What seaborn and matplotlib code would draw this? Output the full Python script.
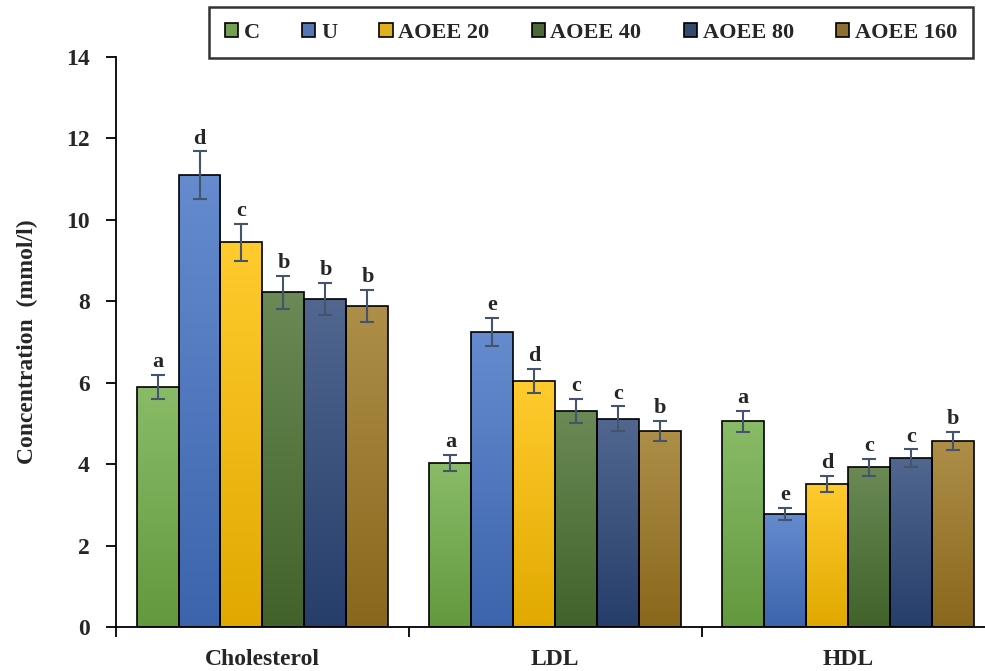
import numpy as np
import pandas as pd
import matplotlib
matplotlib.use("Agg")
import matplotlib.pyplot as plt
import seaborn as sns
from matplotlib.colors import LinearSegmentedColormap, to_rgb

sns.set_theme(style="ticks")
plt.rcParams['font.family'] = ['Liberation Serif', 'DejaVu Serif']
plt.rcParams['font.weight'] = 'bold'

# dados
parametros = ["Cholesterol", "LDL", "HDL"]
grupos = ["C", "U", "AOEE 20", "AOEE 40", "AOEE 80", "AOEE 160"]

media_col = [5.90, 11.10, 9.45, 8.22, 8.06, 7.88]
media_ldl = [4.02, 7.24, 6.04, 5.30, 5.12, 4.82]
media_hdl = [5.05, 2.78, 3.52, 3.92, 4.14, 4.57]

erro_col = [0.30, 0.58, 0.45, 0.40, 0.40, 0.40]
erro_ldl = [0.20, 0.35, 0.30, 0.30, 0.30, 0.25]
erro_hdl = [0.25, 0.15, 0.20, 0.20, 0.22, 0.23]

letras_col = ["a", "d", "c", "b", "b", "b"]
letras_ldl = ["a", "e", "d", "c", "c", "b"]
letras_hdl = ["a", "e", "d", "c", "c", "b"]

cores = ["#70AD47", "#4472C4", "#FFC000", "#4A7030", "#2B4678", "#9C7620"]

medias = [media_col, media_ldl, media_hdl]
erros = [erro_col, erro_ldl, erro_hdl]
letras = [letras_col, letras_ldl, letras_hdl]

linhas = []
for p, vals in zip(parametros, medias):
    for g, v in zip(grupos, vals):
        linhas.append({"Parâmetro": p, "Grupo": g, "Concentração": v})
df = pd.DataFrame(linhas)

fig = plt.figure(figsize=(9.85, 6.71), dpi=100)
ax = fig.add_axes([0.1178, 0.0656, 0.892, 0.8495])

sns.barplot(data=df, x="Parâmetro", y="Concentração", hue="Grupo",
            order=parametros, hue_order=grupos, palette=cores,
            width=0.86, gap=0, edgecolor="black", linewidth=1.2,
            errorbar=None, ax=ax)

# legenda no topo
sns.move_legend(ax, "center", bbox_to_anchor=(0.6, 0.951),
                bbox_transform=fig.transFigure, ncol=6, title=None,
                frameon=True, fancybox=False, fontsize=16,
                handlelength=0.6, handleheight=0.6, handletextpad=0.25,
                columnspacing=1.9, borderpad=0.7, borderaxespad=0)
leg = ax.get_legend()
leg.get_frame().set_edgecolor("black")
leg.get_frame().set_linewidth(1.8)
for t in leg.get_texts():
    t.set_fontweight("bold")

# preenchimento em degradê + barras de erro + letras
barras = list(ax.containers)[:len(grupos)]
for i, cont in enumerate(barras):
    base = np.array(to_rgb(cores[i]))
    topo = base + (1 - base) * 0.18
    fundo = base * 0.88
    cmap = LinearSegmentedColormap.from_list("g", [fundo, topo])
    for j, bar in enumerate(cont):
        x0, w, h = bar.get_x(), bar.get_width(), bar.get_height()
        im = ax.imshow(np.linspace(0, 1, 256).reshape(-1, 1), cmap=cmap,
                       extent=(x0, x0 + w, 0, h), origin="lower",
                       aspect="auto", zorder=bar.get_zorder() - 0.1)
        im.set_clip_path(bar)
        bar.set_facecolor("none")
        xc = x0 + w / 2
        e = erros[j][i]
        ax.errorbar(xc, h, yerr=e, fmt="none", ecolor="#44546A",
                    elinewidth=1.5, capsize=5, capthick=1.5, zorder=5)
        ax.annotate(letras[j][i], (xc, h + e), xytext=(0, 2),
                    textcoords="offset points", ha="center", va="bottom",
                    fontsize=16, fontweight="bold")

ax.set_xlim(-0.5, 2.5)
ax.set_ylim(0, 14)
ax.set_yticks(range(0, 15, 2))
ax.set_xticks([0, 1, 2])
ax.set_xticklabels(parametros, fontsize=17, fontweight="bold")
ax.set_xticks([-0.5, 0.5, 1.5, 2.5], minor=True)
ax.tick_params(axis="x", which="major", length=0, pad=16)
ax.tick_params(axis="x", which="minor", length=7, width=1.3, color="black", direction="out")
ax.tick_params(axis="y", length=7, width=1.3, color="black", direction="out",
               labelsize=17, pad=12)
for t in ax.get_yticklabels():
    t.set_fontweight("bold")

ax.set_xlabel("")
ax.set_ylabel("Concentration  (mmol/l)", fontsize=17, fontweight="bold", labelpad=20)

sns.despine(ax=ax)
for s in ["left", "bottom"]:
    ax.spines[s].set_color("black")
    ax.spines[s].set_linewidth(1.3)

fig.savefig("out.png", dpi=100)
